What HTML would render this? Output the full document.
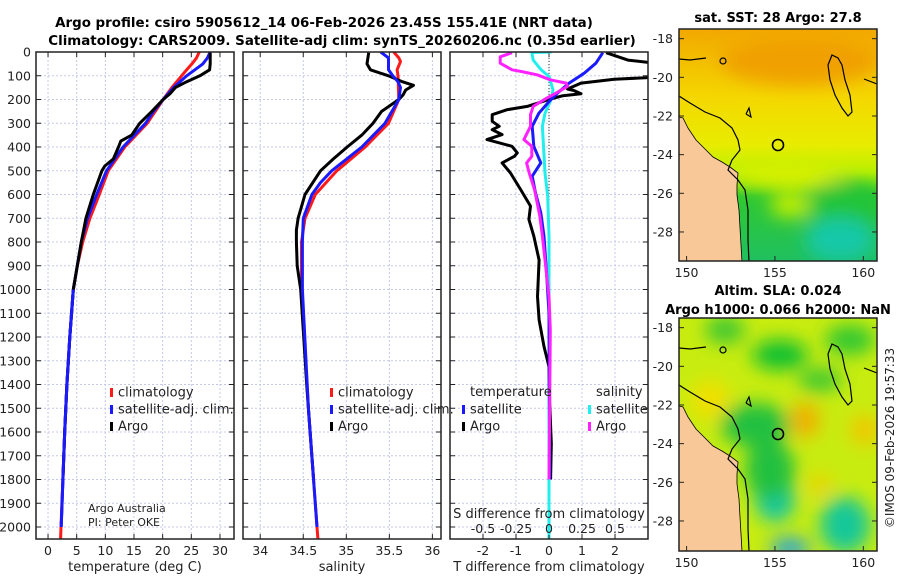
<!DOCTYPE html>
<html><head><meta charset="utf-8"><style>
html,body{margin:0;padding:0;background:#fff;}
svg{display:block;font-family:"DejaVu Sans","Liberation Sans",sans-serif;}
</style></head><body>
<svg id="fig" width="900" height="580" viewBox="0 0 900 580" xmlns="http://www.w3.org/2000/svg">
<defs>
<filter id="blur8" x="-50%" y="-50%" width="200%" height="200%"><feGaussianBlur stdDeviation="9"/></filter>
<linearGradient id="sstGrad" x1="0" y1="0" x2="0" y2="1">
<stop offset="0" stop-color="#f2a800"/><stop offset="0.3" stop-color="#f4d800"/><stop offset="0.5" stop-color="#e8ec00"/><stop offset="0.62" stop-color="#b8f000"/><stop offset="0.72" stop-color="#30c830"/><stop offset="1" stop-color="#20c060"/>
</linearGradient>
<clipPath id="clipA"><rect x="679" y="29" width="198" height="232"/></clipPath>
<clipPath id="clipB"><rect x="679" y="318" width="198" height="233"/></clipPath>
<clipPath id="clipP1"><rect x="36" y="52" width="198" height="487"/></clipPath>
<clipPath id="clipP2"><rect x="243" y="52" width="198" height="487"/></clipPath>
<clipPath id="clipP3"><rect x="450" y="52" width="198" height="487"/></clipPath>
</defs>
<g id="titles">
<text x="324" y="27" text-anchor="middle" font-size="13.4" font-weight="bold">Argo profile: csiro 5905612_14 06-Feb-2026 23.45S 155.41E (NRT data)</text>
<text x="342" y="45" text-anchor="middle" font-size="13.4" font-weight="bold">Climatology: CARS2009. Satellite-adj clim: synTS_20260206.nc (0.35d earlier)</text>
<text x="778" y="22" text-anchor="middle" font-size="13" font-weight="bold">sat. SST: 28 Argo: 27.8</text>
<text x="778" y="295" text-anchor="middle" font-size="13" font-weight="bold">Altim. SLA: 0.024</text>
<text x="778" y="314" text-anchor="middle" font-size="13" font-weight="bold">Argo h1000: 0.066 h2000: NaN</text>
<text transform="translate(894,438) rotate(-90)" text-anchor="middle" font-size="12" fill="#222">©IMOS 09-Feb-2026 19:57:33</text>
</g>
<g id="g1"></g><g id="g2"></g><g id="g3"></g>
<g id="mapA" clip-path="url(#clipA)">
<rect x="679" y="29" width="198" height="232" fill="url(#sstGrad)"/>
<g filter="url(#blur8)">
<ellipse cx="790" cy="175" rx="60" ry="12" fill="#d8f000"/>
<ellipse cx="845" cy="210" rx="40" ry="30" fill="#24c438"/>
<ellipse cx="840" cy="240" rx="35" ry="22" fill="#18c8a8"/>
<ellipse cx="790" cy="205" rx="20" ry="12" fill="#c8f000"/>
<ellipse cx="800" cy="60" rx="80" ry="25" fill="#f0a000"/>
</g>
</g>
<g id="mapB" clip-path="url(#clipB)">
<rect x="679" y="318" width="198" height="233" fill="#c8ec10"/>
<g filter="url(#blur8)">
<ellipse cx="725" cy="330" rx="20" ry="14" fill="#40c830"/>
<ellipse cx="780" cy="355" rx="28" ry="15" fill="#10c030"/>
<ellipse cx="850" cy="340" rx="25" ry="15" fill="#30c830"/>
<ellipse cx="820" cy="380" rx="22" ry="12" fill="#40c830"/>
<ellipse cx="755" cy="425" rx="35" ry="22" fill="#20c040"/>
<ellipse cx="775" cy="500" rx="20" ry="22" fill="#18c8a0"/>
<ellipse cx="770" cy="470" rx="25" ry="30" fill="#20c040"/>
<ellipse cx="845" cy="525" rx="25" ry="28" fill="#18c898"/>
<ellipse cx="790" cy="548" rx="20" ry="10" fill="#20a0e0"/>
<ellipse cx="805" cy="420" rx="15" ry="18" fill="#f0b000"/>
<ellipse cx="865" cy="430" rx="15" ry="15" fill="#f0c800"/>
<ellipse cx="820" cy="485" rx="12" ry="10" fill="#f0d000"/>
<ellipse cx="710" cy="400" rx="20" ry="20" fill="#f0e000"/>
</g>
</g>
<g id="maps-overlay"></g>
</svg>
<script>
// ---------- DATA ----------
const tClimDepth = [0,25,50,75,100,150,200,250,300,400,500,600,700,800,900,1000,1200,1400,1600,1800,2000,2050];
const tClimVals  = [26.4,25.9,25.1,24.2,23.3,21.6,20.1,18.7,17.3,13.4,10.5,8.95,7.3,6.05,5.1,4.4,3.8,3.3,2.9,2.6,2.27,2.2];
const tSatDepth  = [0,25,50,100,150,200,250,300,400,500,600,700,800,900,1000,1200,1400,1600,1800,2000];
const tSatVals   = [28.3,27.8,27.0,24.2,21.9,20.1,18.4,17.0,13.1,10.2,8.5,6.9,5.8,5.1,4.4,3.8,3.3,2.9,2.6,2.3];
const tArgoDepth = [3,25,50,75,100,125,150,175,200,250,300,350,375,400,450,480,500,600,700,800,900,1000,1200,1400,1600,1800];
const tArgoVals  = [28.3,28.3,28.3,28.2,26.5,24.2,22.2,21.3,20.1,18.1,16.0,14.6,12.7,12.3,11.4,9.9,9.4,7.9,6.6,5.8,5.1,4.4,3.8,3.3,2.9,2.6];
const sClimDepth = [0,25,40,75,100,200,300,400,500,600,700,800,1000,1500,2000,2050];
const sClimVals  = [35.55,35.61,35.63,35.59,35.60,35.61,35.49,35.22,34.89,34.64,34.52,34.48,34.48,34.56,34.66,34.67];
const sSatDepth  = [0,25,75,100,125,150,200,300,400,500,550,600,700,800,1000,1500,2000];
const sSatVals   = [35.40,35.49,35.49,35.54,35.60,35.63,35.61,35.45,35.18,34.83,34.70,34.60,34.50,34.49,34.49,34.56,34.66];
const sArgoDepth = [3,50,75,100,125,140,160,180,200,250,300,350,400,450,500,600,700,750,800,900,1000,1400,1600,1800];
const sArgoVals  = [35.26,35.24,35.28,35.49,35.65,35.78,35.69,35.66,35.61,35.41,35.31,35.18,35.01,34.85,34.70,34.52,34.44,34.42,34.42,34.43,34.47,34.54,34.58,34.62];
const dTArgoDepth = [3,34,45,107,115,131,156,162,176,184,198,229,243,264,292,313,327,348,369,397,425,439,467,509,579,649,705,775,876,1030,1128,1240,1325,1480,1648,1800];
const dTArgoVals  = [1.73,2.39,3.1,3.1,1.98,0.97,0.56,0.75,0.97,0.42,0.05,-0.66,-1.27,-1.72,-1.72,-1.51,-1.72,-1.42,-1.88,-1.12,-0.96,-1.05,-1.42,-1.17,-0.86,-0.56,-0.61,-0.46,-0.30,-0.35,-0.30,-0.15,0.0,0.02,0.07,0.05];
const dTSatDepth = [3,47,89,131,174,209,258,313,397,467,523,593,677,775,960,1100,1800];
const dTSatVals  = [1.63,1.42,1.07,0.61,0.25,0.0,-0.31,-0.51,-0.46,-0.25,-0.51,-0.41,-0.25,-0.15,-0.06,0.0,0.02];
const dSArgoDepth = [3,20,47,75,82,96,117,131,145,174,195,229,264,313,369,397,439,467,509,579,691,775,876,1030,1170,1800];
const dSArgoVals  = [-0.28,-0.37,-0.37,-0.28,-0.21,-0.09,0.01,0.13,0.14,0.05,-0.02,-0.12,-0.14,-0.14,-0.19,-0.13,-0.13,-0.17,-0.15,-0.11,-0.07,-0.05,-0.03,0.0,0.01,0.0];
const dSSatDepth = [0,2,34,75,103,159,195,258,313,411,509,607,775,2050];
const dSSatVals  = [0.02,-0.13,-0.12,-0.06,0.0,0.03,0.02,-0.03,-0.05,-0.04,-0.03,-0.01,0.0,0.0];
const depthTicks = [0,100,200,300,400,500,600,700,800,900,1000,1100,1200,1300,1400,1500,1600,1700,1800,1900,2000];
const tempTicks = [0,5,10,15,20,25,30];
const salTicks = [34,34.5,35,35.5,36];
const salTickLabels = ["34","34.5","35","35.5","36"];
const dTTicks = [-2,-1,0,1,2];
const dSTicks = [-0.5,-0.25,0,0.25,0.5];
const dSTickLabels = ["-0.5","-0.25","0","0.25","0.5"];
const latTicks = [-18,-20,-22,-24,-26,-28];
const lonTicks = [150,155,160];

// ---------- SCALES ----------
const NS = "http://www.w3.org/2000/svg";
const PT = 52, PB = 539;
const yD = d => PT + d * 0.2375;
const panels = [
  {x0:36, x1:234, min:-2.1, max:32.45},
  {x0:243, x1:441, min:33.8, max:36.1},
  {x0:450, x1:648, min:-3, max:3}
];
function sx(p, v){ const P = panels[p]; return P.x0 + (v - P.min) / (P.max - P.min) * (P.x1 - P.x0); }
const sxS = v => sx(2, v * 4);

function el(tag, attrs, parent){
  const e = document.createElementNS(NS, tag);
  for (const k in attrs) e.setAttribute(k, attrs[k]);
  parent.appendChild(e); return e;
}
function txt(s, attrs, parent){ const e = el("text", attrs, parent); e.textContent = s; return e; }
function line(depths, vals, fx, color, parent, name){
  const pts = depths.map((d,i) => fx(vals[i]).toFixed(1) + "," + yD(d).toFixed(1)).join(" ");
  const pl = el("polyline", {points: pts, fill: "none", stroke: color, "stroke-width": 3, "stroke-linejoin": "round"}, parent);
  
  
}

function drawFrame(p, g, xticks, fx){
  const P = panels[p];
  depthTicks.forEach(d => {
    el("line", {x1:P.x0, x2:P.x1, y1:yD(d), y2:yD(d), stroke:"#c4c8e8", "stroke-width":1, "stroke-dasharray":"2,2"}, g);
    el("line", {x1:P.x0, x2:P.x0+5, y1:yD(d), y2:yD(d), stroke:"#222"}, g);
    el("line", {x1:P.x1-5, x2:P.x1, y1:yD(d), y2:yD(d), stroke:"#222"}, g);
  });
  xticks.forEach(v => {
    const x = fx(v);
    el("line", {x1:x, x2:x, y1:PT, y2:PB, stroke:"#c4c8e8", "stroke-width":1, "stroke-dasharray":"2,2"}, g);
    el("line", {x1:x, x2:x, y1:PB-5, y2:PB, stroke:"#222"}, g);
    el("line", {x1:x, x2:x, y1:PT, y2:PT+5, stroke:"#222"}, g);
  });
}
function drawBorder(p, g){
  const P = panels[p];
  el("rect", {x:P.x0, y:PT, width:P.x1-P.x0, height:PB-PT, fill:"none", stroke:"#222", "stroke-width":1.5}, g);
}

(function(){
  const g = document.getElementById("g1");
  
  
  const fx = v => sx(0, v);
  drawFrame(0, g, tempTicks, fx);
  depthTicks.forEach(d => {
    const t = txt(String(d), {x:31, y:yD(d)+4.5, "text-anchor":"end", "font-size":12.5, fill:"#222"}, g);
    
    
  });
  tempTicks.forEach(v => {
    const t = txt(String(v), {x:fx(v), y:555, "text-anchor":"middle", "font-size":12.5, fill:"#222"}, g);
    
    
  });
  const xt = txt("temperature (deg C)", {x:135, y:571, "text-anchor":"middle", "font-size":13, fill:"#222"}, g);
  
  
  const c = el("g", {"clip-path":"url(#clipP1)"}, g);
  line(tClimDepth, tClimVals, fx, "#ff1a1a", c, "temperature-climatology-line");
  line(tSatDepth, tSatVals, fx, "#1a1aff", c, "temperature-satellite-line");
  line(tArgoDepth, tArgoVals, fx, "#000", c, "temperature-argo-line");
  line(tSatDepth.slice(-6), tSatVals.slice(-6), fx, "#1a1aff", c, "temperature-satellite-deep-line");
  drawBorder(0, g);
  const leg = el("g", {}, g);
  
  
  [["climatology","#ff1a1a"],["satellite-adj. clim.","#1a1aff"],["Argo","#000"]].forEach((it,i) => {
    const y = 392 + i*17;
    el("rect", {x:110, y:y-4, width:3, height:9, fill:it[1]}, leg);
    txt(it[0], {x:118, y:y+4.5, "font-size":13, fill:"#222"}, leg);
  });
  txt("Argo Australia", {x:88, y:512, "font-size":11, fill:"#222"}, g);
  txt("PI: Peter OKE", {x:88, y:526, "font-size":11, fill:"#222"}, g);
})();

(function(){
  const g = document.getElementById("g2");
  
  
  const fx = v => sx(1, v);
  drawFrame(1, g, salTicks, fx);
  salTicks.forEach((v,i) => {
    const t = txt(salTickLabels[i], {x:fx(v), y:555, "text-anchor":"middle", "font-size":12.5, fill:"#222"}, g);
    
    
  });
  const xt = txt("salinity", {x:342, y:571, "text-anchor":"middle", "font-size":13, fill:"#222"}, g);
  
  
  const c = el("g", {"clip-path":"url(#clipP2)"}, g);
  line(sClimDepth, sClimVals, fx, "#ff1a1a", c, "salinity-climatology-line");
  line(sArgoDepth, sArgoVals, fx, "#000", c, "salinity-argo-line");
  line(sSatDepth, sSatVals, fx, "#1a1aff", c, "salinity-satellite-line");
  drawBorder(1, g);
  const leg = el("g", {}, g);
  
  
  [["climatology","#ff1a1a"],["satellite-adj. clim.","#1a1aff"],["Argo","#000"]].forEach((it,i) => {
    const y = 392 + i*17;
    el("rect", {x:330, y:y-4, width:3, height:9, fill:it[1]}, leg);
    txt(it[0], {x:338, y:y+4.5, "font-size":13, fill:"#222"}, leg);
  });
})();

(function(){
  const g = document.getElementById("g3");
  
  
  const fx = v => sx(2, v);
  drawFrame(2, g, dTTicks, fx);
  dTTicks.forEach(v => {
    const t = txt(String(v), {x:fx(v), y:555, "text-anchor":"middle", "font-size":12.5, fill:"#222"}, g);
    
    
  });
  const xt = txt("T difference from climatology", {x:549, y:571, "text-anchor":"middle", "font-size":13, fill:"#222"}, g);
  
  
  el("line", {x1:fx(0), x2:fx(0), y1:PT, y2:PB, stroke:"#333", "stroke-width":1, "stroke-dasharray":"1,2"}, g);
  const c = el("g", {"clip-path":"url(#clipP3)"}, g);
  line(dSSatDepth, dSSatVals, sxS, "#22eeee", c, "salinity-satellite-diff-line");
  line(dTArgoDepth, dTArgoVals, fx, "#000", c, "temperature-argo-diff-line");
  line(dTSatDepth, dTSatVals, fx, "#1a1aff", c, "temperature-satellite-diff-line");
  line(dSArgoDepth, dSArgoVals, sxS, "#ff22ff", c, "salinity-argo-diff-line");
  const st = txt("S difference from climatology", {x:549, y:518, "text-anchor":"middle", "font-size":13, fill:"#222"}, g);
  
  
  dSTicks.forEach((v,i) => {
    const t = txt(dSTickLabels[i], {x:sxS(v), y:533, "text-anchor":"middle", "font-size":12.5, fill:"#222"}, g);
    
    
    el("line", {x1:sxS(v), x2:sxS(v), y1:PB-4, y2:PB, stroke:"#222"}, g);
  });
  drawBorder(2, g);
  const leg = el("g", {}, g);
  
  
  txt("temperature", {x:470, y:396, "font-size":13, fill:"#222"}, leg);
  txt("salinity", {x:596, y:396, "font-size":13, fill:"#222"}, leg);
  [["satellite","#1a1aff",462],["Argo","#000",462],["satellite","#22eeee",588],["Argo","#ff22ff",588]].forEach((it,i) => {
    const y = 409 + (i%2)*17;
    el("rect", {x:it[2], y:y-4, width:3, height:9, fill:it[1]}, leg);
    txt(it[0], {x:it[2]+8, y:y+4.5, "font-size":13, fill:"#222"}, leg);
  });
})();

(function(){
  const ov = document.getElementById("maps-overlay");
  const mapDefs = [{y0:29, y1:261, clip:"clipA", name:"sst"}, {y0:318, y1:551, clip:"clipB", name:"sla"}];
  const lonX = lon => 679 + (lon - 149.57) * 17.67;
  mapDefs.forEach(m => {
    const latY = lat => m.y0 + (-17.5 - lat) * 19.33;
    const g = el("g", {"clip-path":"url(#"+m.clip+")"}, ov);
    
    
    const land = [[679,117],[683,118],[688,128],[696,140],[704,148],[713,157],[722,162],[730,167],[738,173],[737,185],[737,195],[739,210],[740,228],[742,262]].map(p=>[p[0], p[1]-29+m.y0]);
    const lp = land.map(p=>p.join(",")).join(" ") + " 679," + (m.y1+2);
    el("polygon", {points:lp, fill:"#f8c898", stroke:"#000", "stroke-width":0.8}, g);
    const iso = [[679,96],[690,103],[705,112],[720,118],[732,128],[738,140],[740,150],[732,160],[728,170],[738,180],[745,190],[748,210],[748,240],[749,262]].map(p=>[p[0], p[1]-29+m.y0]);
    el("polyline", {points:iso.map(p=>p.join(",")).join(" "), fill:"none", stroke:"#000", "stroke-width":1.2}, g);
    const ridge = [[832,55],[838,58],[842,65],[845,80],[850,95],[852,112],[848,116],[842,108],[835,95],[830,80],[828,65]].map(p=>[p[0], p[1]-29+m.y0]);
    el("polygon", {points:ridge.map(p=>p.join(",")).join(" "), fill:"none", stroke:"#000", "stroke-width":1.2}, g);
    el("circle", {cx:778, cy:145-29+m.y0, r:5.5, fill:"none", stroke:"#000", "stroke-width":1.6}, g);
    el("circle", {cx:723, cy:61-29+m.y0, r:3, fill:"none", stroke:"#000", "stroke-width":1.2}, g);
    el("polyline", {points:"746,"+(114-29+m.y0)+" 749,"+(108-29+m.y0)+" 751,"+(117-29+m.y0)+" 746,"+(114-29+m.y0), fill:"none", stroke:"#000", "stroke-width":1.2}, g);
    el("polyline", {points:"864,"+(79-29+m.y0)+" 877,"+(84-29+m.y0), fill:"none", stroke:"#000", "stroke-width":1.2}, g);
    el("polyline", {points:"679,"+(59-29+m.y0)+" 690,"+(60-29+m.y0)+" 706,"+(58-29+m.y0), fill:"none", stroke:"#000", "stroke-width":1.2}, g);
    el("rect", {x:679, y:m.y0, width:198, height:m.y1-m.y0, fill:"none", stroke:"#222", "stroke-width":1.5}, ov);
    latTicks.forEach(lat => {
      const y = latY(lat);
      el("line", {x1:679, x2:684, y1:y, y2:y, stroke:"#222"}, ov);
      el("line", {x1:872, x2:877, y1:y, y2:y, stroke:"#222"}, ov);
      const t = txt(String(lat), {x:673, y:y+4.5, "text-anchor":"end", "font-size":12.5, fill:"#222"}, ov);
      
      
    });
    lonTicks.forEach(lon => {
      const x = lonX(lon);
      el("line", {x1:x, x2:x, y1:m.y1-5, y2:m.y1, stroke:"#222"}, ov);
      const t = txt(String(lon), {x:x, y:m.y1+16, "text-anchor":"middle", "font-size":12.5, fill:"#222"}, ov);
      
      
    });
  });
})();
</script>
</body></html>
